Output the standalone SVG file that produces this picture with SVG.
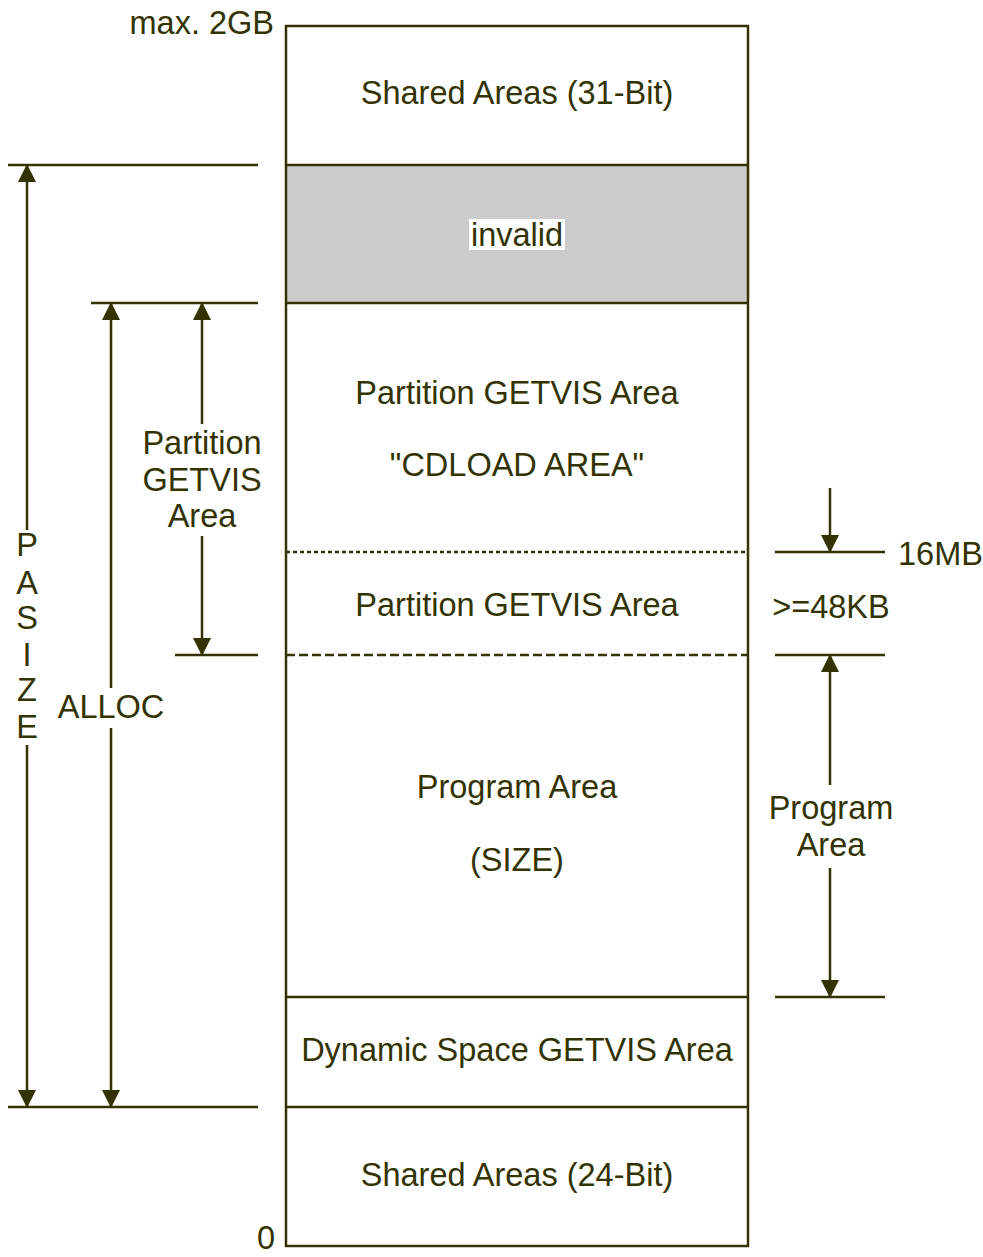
<svg xmlns="http://www.w3.org/2000/svg" width="983" height="1257" viewBox="0 0 983 1257">
<style>
text{font-family:"Liberation Sans",Arial,sans-serif;fill:#333300;font-size:32.5px}
.c{text-anchor:middle}
.ln{stroke:#333300;stroke-width:2.5;fill:none}
</style>
<defs>
<marker id="ah" markerUnits="userSpaceOnUse" markerWidth="18" markerHeight="18" viewBox="0 0 18 18" refX="17" refY="9" orient="auto-start-reverse">
<path d="M0,0 L18,9 L0,18 Z" fill="#333300"/>
</marker>
</defs>
<rect width="983" height="1257" fill="#ffffff"/>
<g id="box">
<rect x="286" y="165" width="462" height="138" fill="#cccccc"/>
<rect x="286" y="26" width="462" height="1220" class="ln"/>
<line x1="286" y1="165" x2="748" y2="165" class="ln"/>
<line x1="286" y1="303" x2="748" y2="303" class="ln"/>
<line x1="286" y1="552" x2="748" y2="552" class="ln" stroke-width="2" stroke-dasharray="4,3"/>
<line x1="286" y1="655" x2="748" y2="655" class="ln" stroke-dasharray="9,4"/>
<line x1="286" y1="997" x2="748" y2="997" class="ln"/>
<line x1="286" y1="1107" x2="748" y2="1107" class="ln"/>
</g>
<g id="shared31"><text x="517" y="104" class="c">Shared Areas (31-Bit)</text></g>
<g id="invalid"><rect x="469" y="219" width="96" height="31" fill="#ffffff"/><text x="517" y="246" class="c">invalid</text></g>
<g id="cdload"><text x="517" y="404" class="c">Partition GETVIS Area</text><text x="517" y="476" class="c">"CDLOAD AREA"</text></g>
<g id="pgetvis"><text x="517" y="616" class="c">Partition GETVIS Area</text></g>
<g id="program"><text x="517" y="798" class="c">Program Area</text><text x="517" y="871" class="c">(SIZE)</text></g>
<g id="dynamic"><text x="517" y="1061" class="c">Dynamic Space GETVIS Area</text></g>
<g id="shared24"><text x="517" y="1186" class="c">Shared Areas (24-Bit)</text></g>
<g id="limits"><text x="274" y="34" text-anchor="end">max. 2GB</text><text x="266" y="1249" class="c" font-size="26">0</text></g>
<g id="connectors">
<line x1="8" y1="165" x2="258" y2="165" class="ln"/>
<line x1="91" y1="303" x2="258" y2="303" class="ln"/>
<line x1="175" y1="655" x2="258" y2="655" class="ln"/>
<line x1="8" y1="1107" x2="258" y2="1107" class="ln"/>
<line x1="27" y1="165" x2="27" y2="530" class="ln" marker-start="url(#ah)"/>
<line x1="27" y1="745" x2="27" y2="1107" class="ln" marker-end="url(#ah)"/>
<line x1="111" y1="303" x2="111" y2="688" class="ln" marker-start="url(#ah)"/>
<line x1="111" y1="728" x2="111" y2="1107" class="ln" marker-end="url(#ah)"/>
<line x1="202" y1="303" x2="202" y2="424" class="ln" marker-start="url(#ah)"/>
<line x1="202" y1="536" x2="202" y2="655" class="ln" marker-end="url(#ah)"/>
<line x1="775" y1="552" x2="885" y2="552" class="ln"/>
<line x1="775" y1="655" x2="885" y2="655" class="ln"/>
<line x1="775" y1="997" x2="885" y2="997" class="ln"/>
<line x1="830" y1="488" x2="830" y2="552" class="ln" marker-end="url(#ah)"/>
<line x1="830" y1="655" x2="830" y2="785" class="ln" marker-start="url(#ah)"/>
<line x1="830" y1="868" x2="830" y2="997" class="ln" marker-end="url(#ah)"/>
</g>
<g id="labels">
<text x="27" y="556" class="c">P</text>
<text x="27" y="594" class="c">A</text>
<text x="27" y="629" class="c">S</text>
<text x="27" y="666" class="c">I</text>
<text x="27" y="701" class="c">Z</text>
<text x="27" y="738" class="c">E</text>
<text x="111" y="718" class="c">ALLOC</text>
<text x="202" y="454" class="c">Partition</text>
<text x="202" y="491" class="c">GETVIS</text>
<text x="202" y="527" class="c">Area</text>
<text x="898" y="565">16MB</text>
<text x="831" y="618" class="c">&gt;=48KB</text>
<text x="831" y="819" class="c">Program</text>
<text x="831" y="856" class="c">Area</text>
</g>
</svg>
